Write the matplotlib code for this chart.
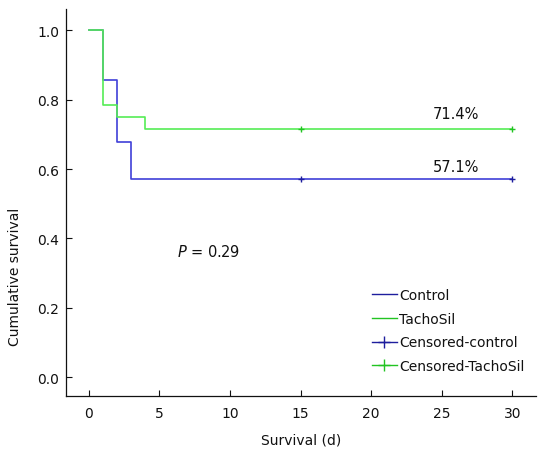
import matplotlib
matplotlib.use('Agg')
import matplotlib.pyplot as plt
from matplotlib.lines import Line2D

# Kaplan-Meier steps
control_t = [0, 1, 2, 3, 30]
control_s = [1.0, 0.857, 0.679, 0.571, 0.571]
tacho_t = [0, 1, 2, 4, 30]
tacho_s = [1.0, 0.786, 0.75, 0.714, 0.714]

# censored observations
cens_t = [15, 30]
cens_control = [0.571, 0.571]
cens_tacho = [0.714, 0.714]

final_labels = ['57.1%', '71.4%']
x_ticks = [0, 5, 10, 15, 20, 25, 30]
y_ticks = [0.0, 0.2, 0.4, 0.6, 0.8, 1.0]

blue = '#4040d8'
green = '#55ec55'
blue_mark = '#1e1e9e'
green_mark = '#22c422'

plt.rcParams['font.family'] = 'DejaVu Sans'

fig = plt.figure(figsize=(5.46, 4.52), dpi=100)
ax = fig.add_axes([0.12, 0.1217, 0.862, 0.856])

ax.step(control_t, control_s, where='post', color=blue, lw=1.2, zorder=2)
ax.step(tacho_t, tacho_s, where='post', color=green, lw=1.2, zorder=3)
ax.plot(cens_t, cens_control, ls='none', marker='+', ms=5, mew=1.0, color=blue_mark, zorder=4)
ax.plot(cens_t, cens_tacho, ls='none', marker='+', ms=5, mew=1.0, color=green_mark, zorder=4)

ax.text(26, cens_tacho[-1] + 0.045, final_labels[1], fontsize=10.5, ha='center', va='center', color='#111111')
ax.text(26, cens_control[-1] + 0.035, final_labels[0], fontsize=10.5, ha='center', va='center', color='#111111')
ax.text(8.5, 0.364, r'$\mathit{P}$ = 0.29', fontsize=10.5, ha='center', va='center', color='#111111')

ax.set_xlim(-1.66, 31.7)
ax.set_ylim(-0.054, 1.061)
ax.set_xticks(x_ticks)
ax.set_yticks(y_ticks)
ax.set_yticklabels([f'{v:.1f}' for v in y_ticks])
ax.tick_params(direction='in', length=4.3, width=0.8, labelsize=10, colors='#111111')
ax.tick_params(axis='x', pad=7)
ax.tick_params(axis='y', pad=4.5)
for side in ['top', 'right']:
    ax.spines[side].set_visible(False)
for side in ['left', 'bottom']:
    ax.spines[side].set_linewidth(0.9)
    ax.spines[side].set_color('#111111')

ax.set_xlabel('Survival (d)', fontsize=10, color='#111111', labelpad=9)
ax.set_ylabel('Cumulative survival', fontsize=10, color='#111111')
ax.yaxis.set_label_coords(-0.092, 0.31)

handles = [
    Line2D([], [], color=blue_mark, lw=1.0),
    Line2D([], [], color=green_mark, lw=1.0),
    Line2D([], [], color=blue_mark, lw=1.0, marker='+', ms=9, mew=1.0),
    Line2D([], [], color=green_mark, lw=1.0, marker='+', ms=9, mew=1.0),
]
labels = ['Control', 'TachoSil', 'Censored-control', 'Censored-TachoSil']
leg = ax.legend(handles, labels, loc='upper left', bbox_to_anchor=(0.651, 0.279),
                frameon=False, fontsize=10, handlelength=1.8, handletextpad=0.15,
                labelspacing=0.7, borderpad=0, borderaxespad=0)
for t in leg.get_texts():
    t.set_color('#111111')

fig.savefig('out.png', dpi=100, facecolor='white')
